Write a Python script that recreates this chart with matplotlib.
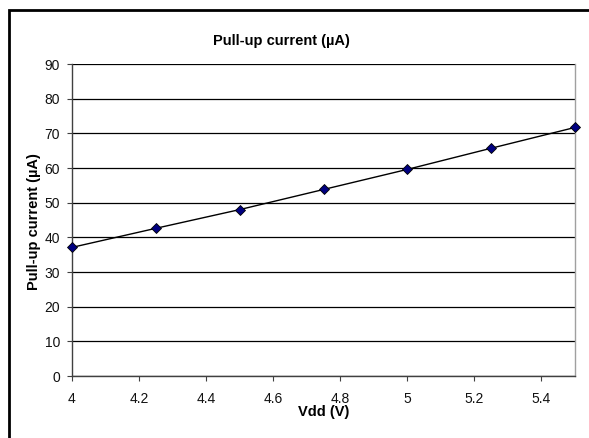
import matplotlib
matplotlib.use("Agg")
import matplotlib.pyplot as plt
from matplotlib.patches import Rectangle

# data
vdd = [4.0, 4.25, 4.5, 4.75, 5.0, 5.25, 5.5]
current = [37.1, 42.6, 48.0, 53.8, 59.6, 65.7, 71.7]
x_ticks = [4, 4.2, 4.4, 4.6, 4.8, 5, 5.2, 5.4]
x_labels = ["4", "4.2", "4.4", "4.6", "4.8", "5", "5.2", "5.4"]
y_ticks = [0, 10, 20, 30, 40, 50, 60, 70, 80, 90]

plt.rcParams['font.family'] = ['Liberation Sans', 'DejaVu Sans']

W, H = 589, 438
fig = plt.figure(figsize=(W / 100, H / 100), dpi=100)
ax = fig.add_axes([72 / W, 1 - 376 / H, (575 - 72) / W, (376 - 64) / H])

# outer chart border (only top/left visible in crop)
fig.patches.append(Rectangle((9 / W, -0.1), 1.2, 1 - 10 / H + 0.1,
                             transform=fig.transFigure, fill=False,
                             edgecolor='black', linewidth=2))

ax.plot(vdd, current, color='black', linewidth=1, marker='D', markersize=5,
        markerfacecolor='#000080', markeredgecolor='black', markeredgewidth=0.6,
        clip_on=False, zorder=5)

ax.set_xlim(4, 5.5)
ax.set_ylim(0, 90)
ax.set_xticks(x_ticks)
ax.set_xticklabels(x_labels)
ax.set_yticks(y_ticks)
ax.yaxis.grid(True, color='black', linewidth=0.9)
ax.set_axisbelow(True)

ax.tick_params(axis='both', direction='out', length=3.5, width=0.8, colors='#404040',
               labelsize=10, labelcolor='#111111')
ax.tick_params(axis='x', pad=8)
ax.tick_params(axis='y', pad=5)

for s in ['left', 'bottom']:
    ax.spines[s].set_color('#404040')
    ax.spines[s].set_linewidth(1)
ax.spines['right'].set_color('#a0a0a0')
ax.spines['right'].set_linewidth(1)
ax.spines['top'].set_visible(False)

fig.text(281 / W, 1 - 41 / H, "Pull-up current (µA)", ha='center', va='center',
         fontsize=10.5, fontweight='bold')
fig.text(324 / W, 1 - 412 / H, "Vdd (V)", ha='center', va='center',
         fontsize=10.5, fontweight='bold')
fig.text(34 / W, 1 - 222 / H, "Pull-up current (µA)", ha='center', va='center',
         rotation=90, fontsize=10.5, fontweight='bold')

fig.savefig("out.png", dpi=100)
